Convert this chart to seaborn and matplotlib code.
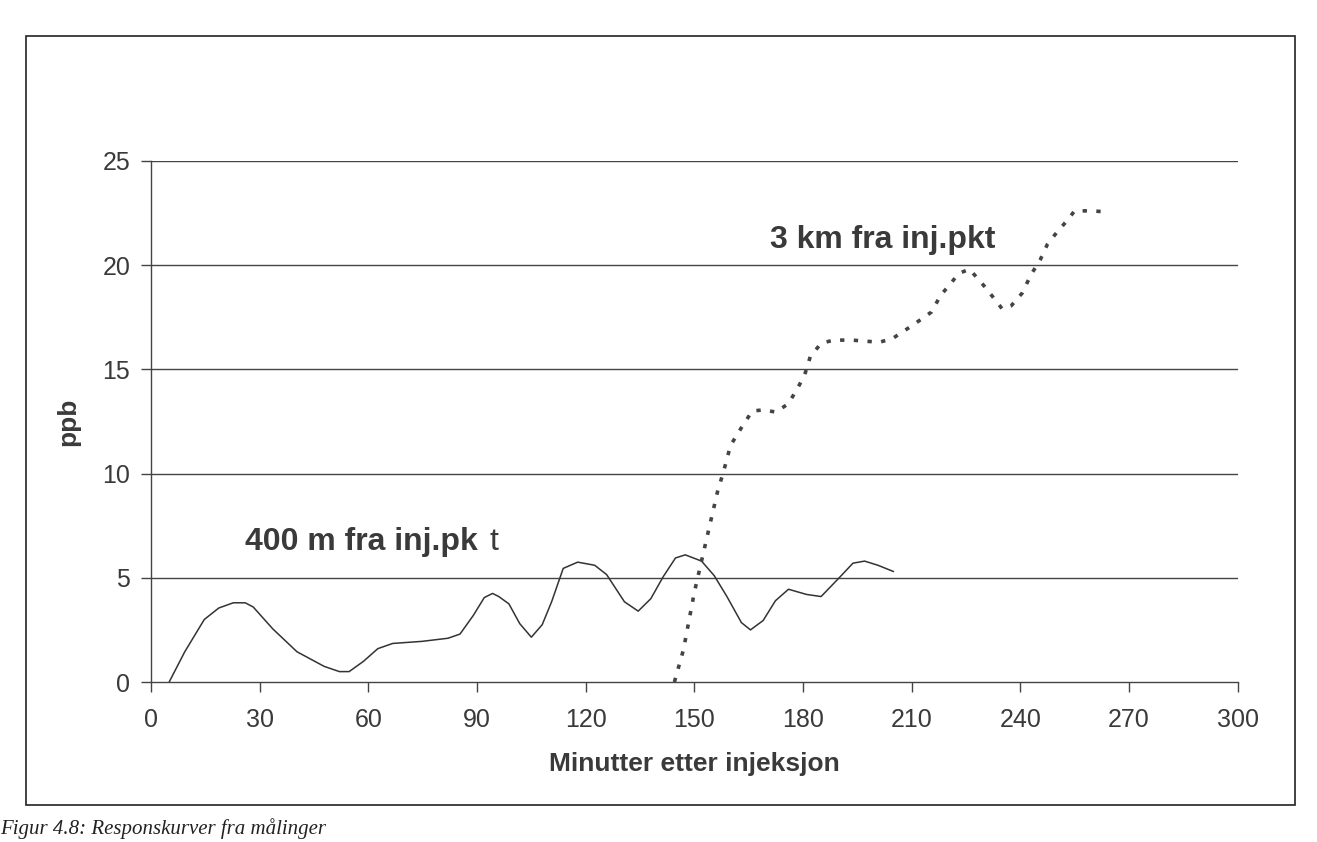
import matplotlib
matplotlib.use("Agg")
import matplotlib.pyplot as plt
import seaborn as sns
import pandas as pd
from matplotlib.patches import Rectangle

# ---- data ----
t_400 = [5, 9.3, 14.7, 18.7, 22.7, 26, 28.2, 33.6, 40.3, 47.8, 52, 54.7, 58.7, 62.6,
         66.7, 74.8, 82, 85.3, 89, 92, 94.3, 96, 98.8, 101.8, 105, 108, 110.6, 113.8,
         117.8, 122.5, 125.8, 130.7, 134.5, 138, 141.4, 144.8, 147.5, 152, 155.5, 159,
         163, 165.5, 169, 172.4, 176, 181, 185, 190, 193.8, 197, 200.7, 205]
v_400 = [0, 1.45, 3.0, 3.55, 3.8, 3.8, 3.6, 2.55, 1.45, 0.75, 0.5, 0.5, 1.0, 1.6,
         1.85, 1.95, 2.1, 2.3, 3.2, 4.05, 4.25, 4.1, 3.75, 2.8, 2.15, 2.75, 3.85, 5.45,
         5.75, 5.6, 5.15, 3.85, 3.4, 4.0, 5.05, 5.95, 6.1, 5.8, 5.1, 4.1,
         2.85, 2.5, 2.95, 3.9, 4.45, 4.2, 4.1, 5.0, 5.7, 5.8, 5.6, 5.3]

t_3km = [144.5, 147, 150, 153.5, 156.5, 158, 160, 163, 166, 169, 172.5, 176, 179,
         180.5, 182, 185, 188.5, 193.5, 201, 204.5, 208, 211, 215.5, 218, 220.5, 223,
         226, 230.5, 235, 237.5, 240.5, 243, 245.5, 247.5, 250, 253, 255, 259.5, 264]
v_3km = [0, 1.55, 4.3, 6.95, 9.2, 10.05, 11.35, 12.2, 13.0, 13.05, 12.95, 13.35,
         14.25, 14.75, 15.6, 16.25, 16.4, 16.4, 16.3, 16.45, 16.85, 17.2, 17.75,
         18.55, 19.05, 19.6, 19.8, 18.9, 17.9, 18.05, 18.65, 19.55, 20.25, 21.0,
         21.55, 22.15, 22.6, 22.6, 22.55]

x_ticks = [0, 30, 60, 90, 120, 150, 180, 210, 240, 270, 300]
y_ticks = [0, 5, 10, 15, 20, 25]

label_400 = "400 m fra inj.pk"
label_400_tail = "t"
label_3km = "3 km fra inj.pkt"
x_title = "Minutter etter injeksjon"
y_title = "ppb"
caption = "Figur 4.8: Responskurver fra målinger"

df400 = pd.DataFrame({"t": t_400, "v": v_400})
df3 = pd.DataFrame({"t": t_3km, "v": v_3km})

sns.set_theme(style="white")
plt.rcParams["font.family"] = ["Liberation Sans", "DejaVu Sans"]

text_col = "#3a3a3a"
fig = plt.figure(figsize=(13.17, 8.42), dpi=100)
ax = fig.add_axes([0.1147, 0.19, 0.825, 0.619])

# outer chart-area frame
fig.patches.append(Rectangle((0.02, 0.044), 0.963, 0.913, transform=fig.transFigure,
                             fill=False, edgecolor="#222222", linewidth=1.2))

sns.lineplot(data=df400, x="t", y="v", ax=ax, color="#333333", linewidth=1.1,
             estimator=None, sort=False)
sns.lineplot(data=df3, x="t", y="v", ax=ax, color="#444444", linewidth=2.6,
             estimator=None, sort=False, linestyle=(0, (1.2, 2.6)))

ax.set_xlim(0, 300)
ax.set_ylim(0, 25)
ax.set_xticks(x_ticks)
ax.set_yticks(y_ticks)
ax.set_xticklabels([str(v) for v in x_ticks])
ax.set_yticklabels([str(v) for v in y_ticks])

for yv in y_ticks[1:]:
    ax.axhline(yv, color="#444444", linewidth=1.0, zorder=0)

for s in ["top", "right"]:
    ax.spines[s].set_visible(False)
for s in ["left", "bottom"]:
    ax.spines[s].set_color("#444444")
    ax.spines[s].set_linewidth(1.0)

ax.tick_params(axis="both", direction="out", length=7, width=1.0, color="#444444",
               labelsize=18, labelcolor=text_col, bottom=True, left=True)
ax.tick_params(axis="x", pad=12)
ax.tick_params(axis="y", pad=8)

ax.set_xlabel(x_title, fontsize=19, fontweight="bold", color=text_col, labelpad=14)
ax.set_ylabel(y_title, fontsize=19, fontweight="bold", color=text_col, labelpad=16)

t1 = ax.text(26, 6.7, label_400, fontsize=23, fontweight="bold", color=text_col,
             va="center", ha="left")
ax.annotate(label_400_tail, xy=(1, 0.5), xycoords=t1, xytext=(8, 0),
            textcoords="offset points", fontsize=23, fontweight="normal",
            color=text_col, va="center", ha="left")
ax.text(171, 21.2, label_3km, fontsize=23, fontweight="bold", color=text_col,
        va="center", ha="left")

fig.text(0.0, 0.016, caption, fontsize=15, style="italic", color="#222222",
         family=["Liberation Serif", "DejaVu Serif"], ha="left", va="center")

fig.savefig("out.png", dpi=100, facecolor="white")
